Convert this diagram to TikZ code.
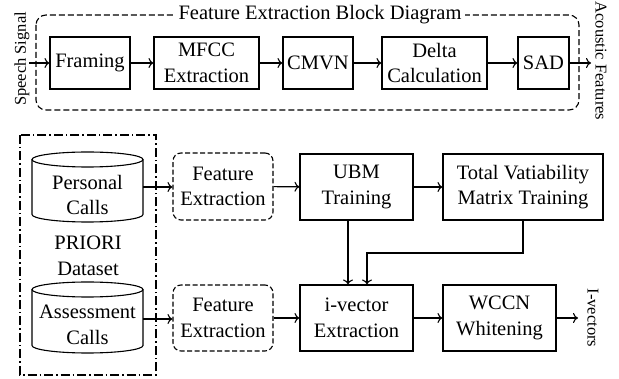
\documentclass[tikz,border=0pt]{standalone}
\usepackage{fontspec}
\setmainfont{Liberation Serif}
\usetikzlibrary{arrows.meta}
\begin{document}
\begin{tikzpicture}[x=1pt,y=-1pt,
  lw/.style={line width=1.1pt},
  box/.style={draw, lw, align=center, inner sep=0pt, font=\fontsize{20.5}{25.5}\selectfont},
  dbox/.style={box, dash pattern=on 5pt off 2.5pt, rounded corners=8pt},
  txt/.style={align=center, inner sep=0pt, font=\fontsize{20.5}{25.5}\selectfont},
  rot/.style={inner sep=0pt, font=\fontsize{16.5}{19}\selectfont},
  arr/.style={lw, -{To[length=5pt,width=10pt]}},
  cyl/.style={draw, lw}]
\useasboundingbox (0,0) rectangle (619,379);
% ---------- top block ----------
\draw[lw, dash pattern=on 6pt off 3pt, rounded corners=10pt] (36,15) rectangle (579,110);
\node[txt, fill=white, inner xsep=4pt] (title) at (320,15) {Feature Extraction Block Diagram};
\node[box, minimum width=80pt, minimum height=52pt] (framing) at (90,63) {Framing};
\node[box, minimum width=105pt, minimum height=52pt] (mfcc) at (206.5,63) {MFCC\\Extraction};
\node[box, minimum width=70pt, minimum height=52pt] (cmvn) at (318,63) {CMVN};
\node[box, minimum width=105pt, minimum height=52pt] (delta) at (434.5,63) {Delta\\Calculation};
\node[box, minimum width=51pt, minimum height=52pt] (sad) at (543.5,63) {SAD};
\node[rot, rotate=90] (speech) at (22,59) {Speech Signal};
\node[rot, rotate=-90] (acoustic) at (601,61) {Acoustic Features};
\coordinate (sin) at (29,63);
\coordinate (aout) at (591,63);
\draw[arr] (sin) -- (framing);
\draw[arr] (framing) -- (mfcc);
\draw[arr] (mfcc) -- (cmvn);
\draw[arr] (cmvn) -- (delta);
\draw[arr] (delta) -- (sad);
\draw[arr] (sad) -- (aout);
% ---------- dataset ----------
\draw[lw, dash pattern=on 9pt off 3pt on 1.5pt off 3pt] (20,135) rectangle (156,375);
% personal calls cylinder
\draw[cyl] (32,159.5) -- (32,214.5) arc[start angle=180, end angle=360, x radius=55.5pt, y radius=7.5pt] -- (143,159.5);
\draw[cyl] (87.5,159.5) ellipse[x radius=55.5pt, y radius=7.5pt];
\node[txt] (personal) at (87.5,195) {Personal\\Calls};
% assessment calls cylinder
\draw[cyl] (32,289.5) -- (32,345.5) arc[start angle=180, end angle=360, x radius=55.5pt, y radius=7.5pt] -- (143,289.5);
\draw[cyl] (87.5,289.5) ellipse[x radius=55.5pt, y radius=7.5pt];
\node[txt] (assess) at (87.5,325) {Assessment\\Calls};
\node[txt] (priori) at (88,256) {PRIORI\\Dataset};
\coordinate (pout) at (143,187);
\coordinate (aout2) at (143,319);
% ---------- pipeline ----------
\node[dbox, minimum width=100pt, minimum height=67pt] (fe1) at (223,186.5) {Feature\\Extraction};
\node[dbox, minimum width=100pt, minimum height=66pt] (fe2) at (223,318) {Feature\\Extraction};
\node[box, minimum width=113pt, minimum height=66pt] (ubm) at (356.5,187) {UBM\\Training};
\node[box, minimum width=160pt, minimum height=66pt] (tvm) at (523,187) {Total Vatiability\\Matrix Training};
\node[box, minimum width=113pt, minimum height=66pt] (ivec) at (356.5,318) {i-vector\\Extraction};
\node[box, minimum width=113pt, minimum height=66pt] (wccn) at (499.5,318) {WCCN\\Whitening};
\node[rot, rotate=-90] (ivectors) at (593,318) {I-vectors};
\coordinate (ivout) at (578,318);
\draw[arr] (pout) -- (fe1.west |- pout);
\draw[arr] (aout2) -- (fe2.west |- aout2);
\draw[arr] (fe1) -- (ubm);
\draw[arr] (fe2) -- (ivec);
\draw[arr] (ubm) -- (tvm);
\draw[arr] (ivec) -- (wccn);
\draw[arr] (wccn) -- (ivout);
\draw[arr] (ubm.south -| 348,0) -- (ivec.north -| 348,0);
\draw[arr] (tvm.south) -- (523,253) -- (367,253) -- (ivec.north -| 367,0);
\end{tikzpicture}
\end{document}
